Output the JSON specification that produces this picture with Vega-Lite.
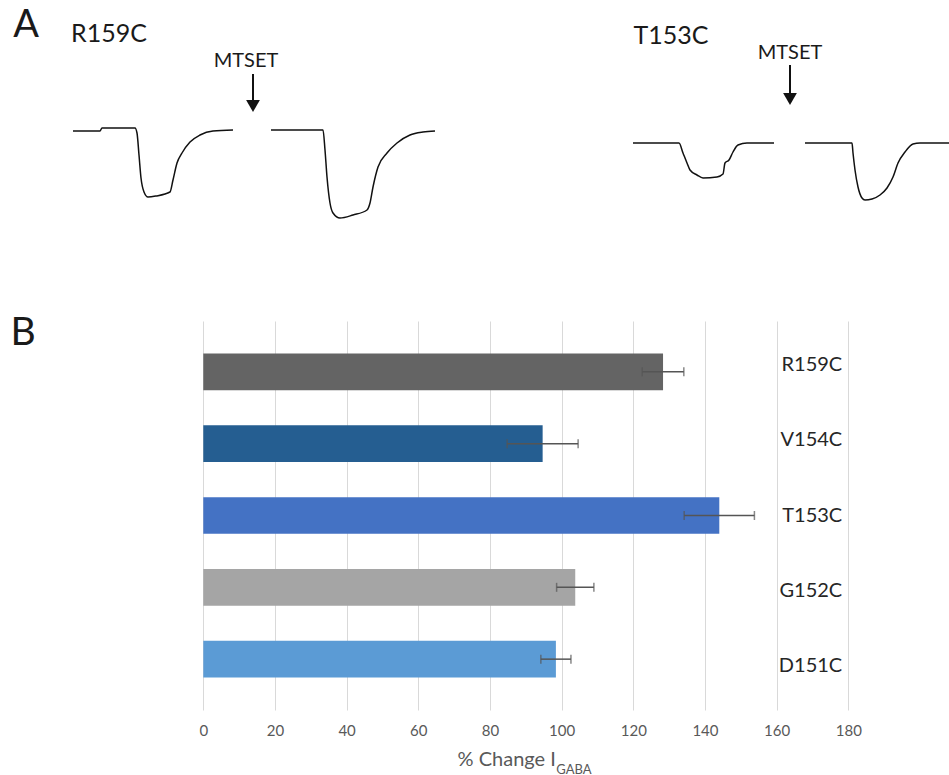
{
  "$schema": "https://vega.github.io/schema/vega-lite/v6.json",
  "padding": 0,
  "background": "white",
  "bounds": "flush",
  "spacing": 0,
  "config": {"view": {"stroke": null}, "font": "Lato"},
  "datasets": {
    "traces": [
      {"sweep": "R159C control", "t": 7.3, "i": -13.1},
      {"sweep": "R159C control", "t": 10.0, "i": -13.1},
      {"sweep": "R159C control", "t": 10.2, "i": -12.8},
      {"sweep": "R159C control", "t": 13.5, "i": -12.8},
      {"sweep": "R159C control", "t": 13.7, "i": -13.3},
      {"sweep": "R159C control", "t": 13.9, "i": -15.5},
      {"sweep": "R159C control", "t": 14.1, "i": -17.8},
      {"sweep": "R159C control", "t": 14.4, "i": -19.2},
      {"sweep": "R159C control", "t": 14.8, "i": -19.7},
      {"sweep": "R159C control", "t": 15.6, "i": -19.6},
      {"sweep": "R159C control", "t": 17.0, "i": -19.2},
      {"sweep": "R159C control", "t": 17.3, "i": -18.0},
      {"sweep": "R159C control", "t": 17.7, "i": -16.3},
      {"sweep": "R159C control", "t": 18.2, "i": -15.3},
      {"sweep": "R159C control", "t": 19.0, "i": -14.2},
      {"sweep": "R159C control", "t": 20.0, "i": -13.5},
      {"sweep": "R159C control", "t": 21.3, "i": -13.1},
      {"sweep": "R159C control", "t": 23.3, "i": -13.0},
      {"sweep": "R159C MTSET", "t": 27.1, "i": -13.0},
      {"sweep": "R159C MTSET", "t": 32.3, "i": -13.0},
      {"sweep": "R159C MTSET", "t": 32.5, "i": -15.0},
      {"sweep": "R159C MTSET", "t": 32.7, "i": -17.7},
      {"sweep": "R159C MTSET", "t": 33.0, "i": -20.3},
      {"sweep": "R159C MTSET", "t": 33.3, "i": -21.3},
      {"sweep": "R159C MTSET", "t": 34.0, "i": -21.8},
      {"sweep": "R159C MTSET", "t": 35.3, "i": -21.5},
      {"sweep": "R159C MTSET", "t": 36.7, "i": -21.0},
      {"sweep": "R159C MTSET", "t": 37.0, "i": -20.3},
      {"sweep": "R159C MTSET", "t": 37.3, "i": -18.7},
      {"sweep": "R159C MTSET", "t": 37.8, "i": -16.7},
      {"sweep": "R159C MTSET", "t": 38.7, "i": -15.3},
      {"sweep": "R159C MTSET", "t": 39.7, "i": -14.3},
      {"sweep": "R159C MTSET", "t": 41.0, "i": -13.5},
      {"sweep": "R159C MTSET", "t": 42.3, "i": -13.2},
      {"sweep": "R159C MTSET", "t": 43.5, "i": -13.1},
      {"sweep": "T153C control", "t": 63.3, "i": -14.3},
      {"sweep": "T153C control", "t": 67.9, "i": -14.3},
      {"sweep": "T153C control", "t": 68.3, "i": -15.3},
      {"sweep": "T153C control", "t": 68.7, "i": -16.3},
      {"sweep": "T153C control", "t": 69.0, "i": -17.0},
      {"sweep": "T153C control", "t": 69.7, "i": -17.5},
      {"sweep": "T153C control", "t": 70.3, "i": -17.8},
      {"sweep": "T153C control", "t": 71.7, "i": -17.7},
      {"sweep": "T153C control", "t": 72.3, "i": -17.4},
      {"sweep": "T153C control", "t": 72.5, "i": -16.3},
      {"sweep": "T153C control", "t": 72.9, "i": -16.0},
      {"sweep": "T153C control", "t": 73.3, "i": -15.2},
      {"sweep": "T153C control", "t": 73.8, "i": -14.5},
      {"sweep": "T153C control", "t": 74.7, "i": -14.3},
      {"sweep": "T153C control", "t": 77.4, "i": -14.3},
      {"sweep": "T153C MTSET", "t": 80.5, "i": -14.3},
      {"sweep": "T153C MTSET", "t": 85.2, "i": -14.3},
      {"sweep": "T153C MTSET", "t": 85.3, "i": -15.3},
      {"sweep": "T153C MTSET", "t": 85.5, "i": -17.0},
      {"sweep": "T153C MTSET", "t": 85.8, "i": -18.7},
      {"sweep": "T153C MTSET", "t": 86.2, "i": -19.8},
      {"sweep": "T153C MTSET", "t": 86.5, "i": -20.0},
      {"sweep": "T153C MTSET", "t": 87.2, "i": -19.9},
      {"sweep": "T153C MTSET", "t": 88.0, "i": -19.5},
      {"sweep": "T153C MTSET", "t": 88.7, "i": -18.8},
      {"sweep": "T153C MTSET", "t": 89.3, "i": -17.7},
      {"sweep": "T153C MTSET", "t": 89.8, "i": -16.3},
      {"sweep": "T153C MTSET", "t": 90.5, "i": -15.2},
      {"sweep": "T153C MTSET", "t": 91.3, "i": -14.4},
      {"sweep": "T153C MTSET", "t": 92.0, "i": -14.3},
      {"sweep": "T153C MTSET", "t": 94.9, "i": -14.3}
    ],
    "bars": [
      {"mutant": "R159C", "change": 128.3, "err": 5.8},
      {"mutant": "V154C", "change": 94.7, "err": 9.9},
      {"mutant": "T153C", "change": 144.0, "err": 9.8},
      {"mutant": "G152C", "change": 103.8, "err": 5.2},
      {"mutant": "D151C", "change": 98.4, "err": 4.2}
    ]
  },
  "vconcat": [
    {
      "width": 949,
      "height": 321,
      "layer": [
        {
          "data": {"name": "traces"},
          "mark": {"type": "line", "color": "#111111", "strokeWidth": 1.5, "interpolate": "monotone"},
          "encoding": {
            "x": {"field": "t", "type": "quantitative", "scale": {"domain": [0, 94.9], "nice": false, "zero": false}, "axis": null},
            "y": {"field": "i", "type": "quantitative", "scale": {"domain": [-32.1, 0], "nice": false, "zero": false}, "axis": null},
            "detail": {"field": "sweep"}
          }
        },
        {
          "data": {"values": [{"label": "A"}]},
          "mark": {"type": "text", "fontSize": 38, "align": "center", "baseline": "middle", "color": "#1a1a1a"},
          "encoding": {"text": {"field": "label"}, "x": {"datum": 2.6}, "y": {"datum": -2.6}}
        },
        {
          "data": {"values": [{"label": "B"}]},
          "mark": {"type": "text", "fontSize": 39, "align": "center", "baseline": "middle", "color": "#1a1a1a"},
          "encoding": {"text": {"field": "label"}, "x": {"datum": 2.3}, "y": {"datum": -33.25}}
        },
        {
          "data": {"values": [{"label": "R159C"}]},
          "mark": {"type": "text", "fontSize": 25, "align": "center", "baseline": "middle", "color": "#1a1a1a"},
          "encoding": {"text": {"field": "label"}, "x": {"datum": 10.9}, "y": {"datum": -3.35}}
        },
        {
          "data": {"values": [{"label": "T153C"}]},
          "mark": {"type": "text", "fontSize": 25, "align": "center", "baseline": "middle", "color": "#1a1a1a"},
          "encoding": {"text": {"field": "label"}, "x": {"datum": 67.1}, "y": {"datum": -3.55}}
        },
        {
          "data": {"values": [{"label": "MTSET"}]},
          "mark": {"type": "text", "fontSize": 20, "align": "center", "baseline": "middle", "color": "#1a1a1a"},
          "encoding": {"text": {"field": "label"}, "x": {"datum": 24.6}, "y": {"datum": -6.1}}
        },
        {
          "data": {"values": [{"label": "MTSET"}]},
          "mark": {"type": "text", "fontSize": 20, "align": "center", "baseline": "middle", "color": "#1a1a1a"},
          "encoding": {"text": {"field": "label"}, "x": {"datum": 79.0}, "y": {"datum": -5.25}}
        },
        {
          "data": {"values": [{"label": "arrow"}]},
          "mark": {"type": "rule", "color": "#111111", "strokeWidth": 2},
          "encoding": {"x": {"datum": 25.3}, "y": {"datum": -7.4}, "y2": {"datum": -10.4}}
        },
        {
          "data": {"values": [{"label": "arrow"}]},
          "mark": {"type": "point", "shape": "triangle-down", "size": 190, "filled": true, "color": "#111111", "opacity": 1},
          "encoding": {"x": {"datum": 25.3}, "y": {"datum": -10.6}}
        },
        {
          "data": {"values": [{"label": "arrow"}]},
          "mark": {"type": "rule", "color": "#111111", "strokeWidth": 2},
          "encoding": {"x": {"datum": 79.0}, "y": {"datum": -6.5}, "y2": {"datum": -9.7}}
        },
        {
          "data": {"values": [{"label": "arrow"}]},
          "mark": {"type": "point", "shape": "triangle-down", "size": 190, "filled": true, "color": "#111111", "opacity": 1},
          "encoding": {"x": {"datum": 79.0}, "y": {"datum": -9.9}}
        }
      ]
    },
    {
      "width": 949,
      "height": 389,
      "data": {"name": "bars"},
      "layer": [
        {
          "layer": [
            {
              "mark": {"type": "bar"},
              "encoding": {
                "y": {"field": "mutant", "type": "nominal", "sort": ["R159C", "V154C", "T153C", "G152C", "D151C"], "scale": {"paddingInner": 0.49, "paddingOuter": 0.453}, "axis": null},
                "x": {"field": "change", "type": "quantitative", "scale": {"domain": [-56.73, 208.1], "nice": false, "zero": false},
                  "axis": {"values": [0, 20, 40, 60, 80, 100, 120, 140, 160, 180], "grid": true, "gridColor": "#d9d9d9", "gridWidth": 1, "domain": false, "ticks": false, "labelColor": "#595959", "labelFontSize": 15, "labelPadding": 13, "labelFlush": false, "title": null}},
                "x2": {"datum": 0},
                "color": {"field": "mutant", "type": "nominal", "scale": {"domain": ["R159C", "V154C", "T153C", "G152C", "D151C"], "range": ["#646464", "#255e91", "#4472c4", "#a5a5a5", "#5b9bd5"]}, "legend": null}
              }
            },
            {
              "mark": {"type": "errorbar", "color": "#555555", "thickness": 1.5, "ticks": {"size": 9, "thickness": 1.5, "color": "#555555"}},
              "encoding": {
                "y": {"field": "mutant", "type": "nominal", "sort": ["R159C", "V154C", "T153C", "G152C", "D151C"]},
                "x": {"field": "change", "type": "quantitative", "title": null},
                "xError": {"field": "err"}
              }
            }
          ]
        },
        {
          "mark": {"type": "text", "align": "right", "baseline": "middle", "fontSize": 20, "color": "#262626"},
          "encoding": {
            "y": {"field": "mutant", "type": "nominal", "sort": ["R159C", "V154C", "T153C", "G152C", "D151C"], "scale": {"type": "point", "padding": 0.58}, "axis": null},
            "x": {"datum": 178.3},
            "text": {"field": "mutant"}
          }
        }
      ],
      "resolve": {"scale": {"y": "independent"}}
    },
    {
      "width": 949,
      "height": 65,
      "layer": [
        {
          "data": {"values": [{"label": "% Change I"}]},
          "mark": {"type": "text", "fontSize": 20, "align": "right", "baseline": "alphabetic", "color": "#595959"},
          "encoding": {
            "text": {"field": "label"},
            "x": {"datum": 98.4, "scale": {"domain": [-56.73, 208.1], "nice": false, "zero": false}, "axis": null},
            "y": {"datum": 0.138, "scale": {"domain": [0, 1], "nice": false, "zero": false}, "axis": null}
          }
        },
        {
          "data": {"values": [{"label": "GABA"}]},
          "mark": {"type": "text", "fontSize": 13, "align": "left", "baseline": "alphabetic", "color": "#595959"},
          "encoding": {
            "text": {"field": "label"},
            "x": {"datum": 98.5},
            "y": {"datum": 0.02}
          }
        }
      ]
    }
  ]
}
